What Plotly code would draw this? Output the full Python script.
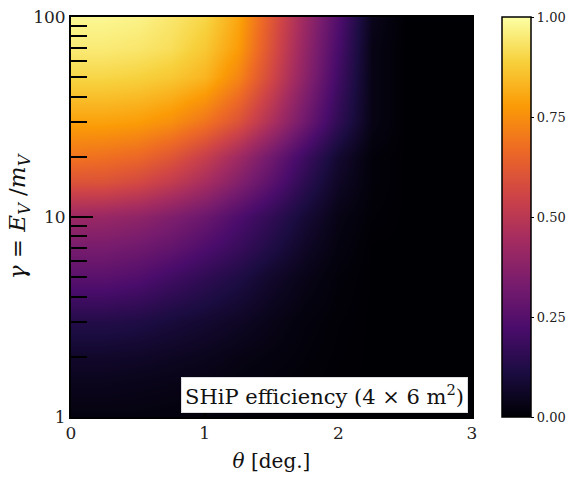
import plotly.graph_objects as go

# Opening angle theta [deg.] and boost gamma = E_V / m_V sample points
theta = [0.0, 0.25, 0.5, 0.75, 1.0, 1.25, 1.5, 1.75, 2.0, 2.25, 2.5, 2.75, 3.0]
gamma = [1, 1.5, 2, 3, 5, 7, 10, 15, 20, 30, 50, 70, 100]

# Geometric efficiency of the SHiP detector, one row per gamma value
eff_g1 = [0.02, 0.02, 0.02, 0.017, 0.014, 0.01, 0.006, 0.003, 0.001, 0.0, 0.0, 0.0, 0.0]
eff_g1_5 = [0.045, 0.045, 0.04, 0.035, 0.028, 0.02, 0.012, 0.006, 0.002, 0.0, 0.0, 0.0, 0.0]
eff_g2 = [0.07, 0.07, 0.065, 0.055, 0.045, 0.03, 0.02, 0.01, 0.003, 0.0, 0.0, 0.0, 0.0]
eff_g3 = [0.13, 0.13, 0.12, 0.10, 0.08, 0.06, 0.035, 0.015, 0.005, 0.0, 0.0, 0.0, 0.0]
eff_g5 = [0.26, 0.26, 0.24, 0.20, 0.16, 0.12, 0.07, 0.035, 0.01, 0.0, 0.0, 0.0, 0.0]
eff_g7 = [0.33, 0.33, 0.31, 0.28, 0.23, 0.18, 0.12, 0.06, 0.02, 0.0, 0.0, 0.0, 0.0]
eff_g10 = [0.42, 0.41, 0.39, 0.35, 0.30, 0.23, 0.16, 0.09, 0.03, 0.005, 0.0, 0.0, 0.0]
eff_g15 = [0.60, 0.60, 0.57, 0.52, 0.45, 0.36, 0.26, 0.15, 0.06, 0.01, 0.0, 0.0, 0.0]
eff_g20 = [0.69, 0.68, 0.66, 0.61, 0.53, 0.43, 0.31, 0.19, 0.08, 0.01, 0.0, 0.0, 0.0]
eff_g30 = [0.79, 0.79, 0.78, 0.75, 0.69, 0.60, 0.46, 0.31, 0.16, 0.03, 0.0, 0.0, 0.0]
eff_g50 = [0.90, 0.90, 0.89, 0.87, 0.83, 0.73, 0.56, 0.38, 0.20, 0.03, 0.0, 0.0, 0.0]
eff_g70 = [0.95, 0.95, 0.94, 0.92, 0.87, 0.78, 0.59, 0.40, 0.22, 0.03, 0.0, 0.0, 0.0]
eff_g100 = [0.98, 0.98, 0.97, 0.94, 0.90, 0.80, 0.61, 0.42, 0.24, 0.04, 0.0, 0.0, 0.0]

efficiency = [eff_g1, eff_g1_5, eff_g2, eff_g3, eff_g5, eff_g7, eff_g10,
              eff_g15, eff_g20, eff_g30, eff_g50, eff_g70, eff_g100]

cbar_ticks = [0.0, 0.25, 0.5, 0.75, 1.0]
y_major = [1, 10, 100]
y_minor = [2, 3, 4, 5, 6, 7, 8, 9, 20, 30, 40, 50, 60, 70, 80, 90]

SERIF = "'DejaVu Serif', serif"

fig = go.Figure()
fig.add_trace(go.Heatmap(
    x=theta, y=gamma, z=efficiency,
    colorscale="Inferno", zmin=0, zmax=1, zsmooth="best",
    colorbar=dict(
        x=1.075, xanchor="left", xpad=0, y=0.5, yanchor="middle", ypad=0,
        len=1.0, lenmode="fraction", thickness=29,
        outlinecolor="black", outlinewidth=1.5,
        tickvals=cbar_ticks, tickformat=".2f",
        ticks="outside", ticklen=3, tickwidth=1, tickcolor="black",
        tickfont=dict(family=SERIF, size=13, color="#222"),
    ),
))

fig.add_annotation(
    text="SHiP efficiency (4 × 6 m<sup>2</sup>)",
    xref="paper", yref="paper", x=0.99, y=0.01,
    xanchor="right", yanchor="bottom", showarrow=False,
    font=dict(family=SERIF, size=21, color="#111"),
    bgcolor="white", bordercolor="#dddddd", borderwidth=1, borderpad=3,
)

fig.update_xaxes(
    range=[0, 3], tickvals=[0, 1, 2, 3], ticktext=["0", "1", "2", "3"],
    ticks="inside", ticklen=10, tickwidth=2, tickcolor="black",
    showline=True, linecolor="black", linewidth=2, mirror=True,
    showgrid=False, zeroline=False,
    tickfont=dict(family=SERIF, size=17, color="#222"),
    title=dict(text="<i>θ</i> [deg.]", font=dict(family=SERIF, size=20, color="#111"), standoff=12),
)
fig.update_yaxes(
    type="log", range=[0, 2], tickvals=y_major, ticktext=["1", "10", "100"],
    ticks="inside", ticklen=22, tickwidth=2, tickcolor="black",
    minor=dict(tickvals=y_minor, ticks="inside", ticklen=16, tickwidth=2, tickcolor="black", showgrid=False),
    showline=True, linecolor="black", linewidth=2, mirror=True,
    showgrid=False, zeroline=False,
    tickfont=dict(family=SERIF, size=17, color="#222"),
    title=dict(text="<i>γ</i> = <i>E<sub>V</sub></i> /<i>m<sub>V</sub></i>",
               font=dict(family=SERIF, size=23, color="#111"), standoff=1),
)

fig.update_layout(
    width=567, height=477,
    margin=dict(l=71, r=95, t=17, b=60, autoexpand=False),
    paper_bgcolor="white", plot_bgcolor="black",
    showlegend=False,
)

fig.write_html("out.html")
